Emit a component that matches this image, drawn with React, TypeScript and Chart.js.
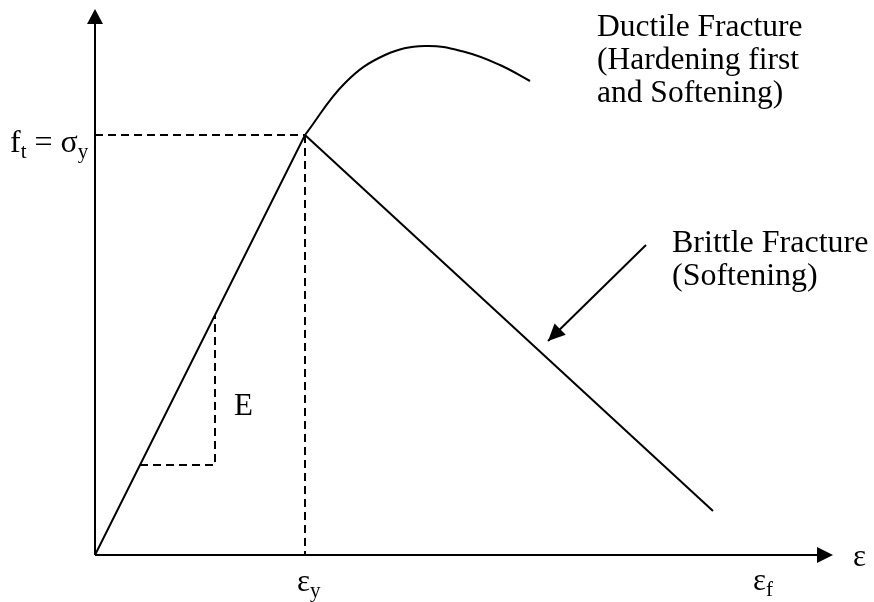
import React, { useEffect, useRef } from "react";
import { Chart, registerables } from "chart.js";

Chart.register(...registerables);

// strain (x) / stress (y) in arbitrary units
const elasticLine = [
  { x: 0, y: 0 },
  { x: 2.1, y: 4.2 },
];
const brittleLine = [
  { x: 2.1, y: 4.2 },
  { x: 6.18, y: 0.44 },
];
const ductileCurve = [
  { x: 2.1, y: 4.2 },
  { x: 2.5, y: 4.72 },
  { x: 2.9, y: 5.0 },
  { x: 3.3, y: 5.09 },
  { x: 3.7, y: 5.03 },
  { x: 4.05, y: 4.9 },
  { x: 4.35, y: 4.74 },
];
const yieldHorizontal = [
  { x: 0, y: 4.2 },
  { x: 2.1, y: 4.2 },
];
const yieldVertical = [
  { x: 2.1, y: 4.2 },
  { x: 2.1, y: 0 },
];
const slopeTriangle = [
  { x: 0.45, y: 0.9 },
  { x: 1.2, y: 0.9 },
  { x: 1.2, y: 2.4 },
];
const pointerArrow = [
  { x: 5.51, y: 3.1 },
  { x: 4.53, y: 2.14 },
];
const ductileLabel = ["Ductile Fracture", "(Hardening first", "and Softening)"];
const brittleLabel = ["Brittle Fracture", "(Softening)"];

const X_MAX = 7.38;
const Y_MAX = 5.46;
const FONT = '"Liberation Serif", "Times New Roman", serif';

function arrowHead(ctx: CanvasRenderingContext2D, tx: number, ty: number, fx: number, fy: number, len: number, half: number) {
  const a = Math.atan2(ty - fy, tx - fx);
  ctx.beginPath();
  ctx.moveTo(tx, ty);
  ctx.lineTo(tx - len * Math.cos(a) + half * Math.sin(a), ty - len * Math.sin(a) - half * Math.cos(a));
  ctx.lineTo(tx - len * Math.cos(a) - half * Math.sin(a), ty - len * Math.sin(a) + half * Math.cos(a));
  ctx.closePath();
  ctx.fill();
}

const overlay = {
  id: "overlay",
  afterDatasetsDraw(chart: any) {
    const ctx: CanvasRenderingContext2D = chart.ctx;
    const xs = chart.scales.x;
    const ys = chart.scales.y;
    const px = (v: number) => xs.getPixelForValue(v);
    const py = (v: number) => ys.getPixelForValue(v);
    ctx.save();
    ctx.strokeStyle = "#000";
    ctx.fillStyle = "#000";
    ctx.lineWidth = 2;
    // axes
    const ox = px(0), oy = py(0);
    ctx.beginPath();
    ctx.moveTo(ox, oy);
    ctx.lineTo(ox, py(Y_MAX) + 10);
    ctx.moveTo(ox, oy);
    ctx.lineTo(px(X_MAX) - 10, oy);
    ctx.stroke();
    arrowHead(ctx, ox, py(Y_MAX), ox, oy, 15, 8);
    arrowHead(ctx, px(X_MAX), oy, ox, oy, 16, 8);
    // pointer arrow head
    arrowHead(ctx, px(pointerArrow[1].x), py(pointerArrow[1].y), px(pointerArrow[0].x), py(pointerArrow[0].y), 17, 8);

    ctx.textBaseline = "alphabetic";
    ctx.textAlign = "left";
    const text = (t: string, x: number, y: number, size: number) => {
      ctx.font = `${size}px ${FONT}`;
      ctx.fillText(t, x, y);
      return x + ctx.measureText(t).width;
    };
    ductileLabel.forEach((t, i) => text(t, 597, 36 + i * 33, 31.5));
    brittleLabel.forEach((t, i) => text(t, 672, 252 + i * 33, 32));
    text("E", 234, 415, 31);
    // f_t = sigma_y
    let xx = text("f", 10, 152, 32);
    xx = text("t", xx, 158, 21);
    xx = text(" = ", xx, 152, 32);
    xx = text("σ", xx, 152, 32);
    text("y", xx, 158, 21);
    // epsilons
    xx = text("ε", 297, 591, 31);
    text("y", xx, 597, 21);
    xx = text("ε", 753, 590, 31);
    text("f", xx, 596, 21);
    text("ε", 853, 566, 31);
    ctx.restore();
  },
};

export default function App() {
  const ref = useRef<HTMLCanvasElement | null>(null);
  useEffect(() => {
    document.body.style.margin = "0";
    if (!ref.current) return;
    const solid = { borderColor: "#000", borderWidth: 2, pointRadius: 0, fill: false, showLine: true };
    const dashed = { ...solid, borderDash: [8, 5] };
    const chart = new Chart(ref.current, {
      type: "scatter",
      data: {
        datasets: [
          { ...solid, data: elasticLine },
          { ...solid, data: brittleLine },
          { ...solid, data: ductileCurve, tension: 0.4 },
          { ...dashed, data: yieldHorizontal },
          { ...dashed, data: yieldVertical },
          { ...dashed, data: slopeTriangle },
          { ...solid, data: pointerArrow },
        ] as any,
      },
      options: {
        responsive: false,
        animation: false,
        devicePixelRatio: 1,
        layout: { padding: { left: 95, right: 41, top: 9, bottom: 47 } },
        plugins: { legend: { display: false }, tooltip: { enabled: false } },
        scales: {
          x: { type: "linear", min: 0, max: X_MAX, display: false },
          y: { type: "linear", min: 0, max: Y_MAX, display: false },
        },
      },
      plugins: [overlay],
    });
    return () => chart.destroy();
  }, []);
  return (
    <div style={{ width: 874, height: 602, background: "#fff" }}>
      <canvas ref={ref} width={874} height={602} />
    </div>
  );
}
